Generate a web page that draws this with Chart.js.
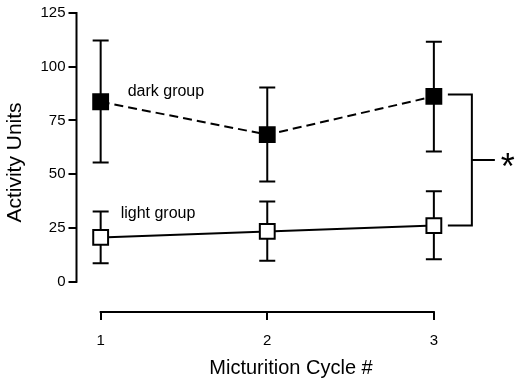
<!DOCTYPE html>
<html>
<head>
<meta charset="utf-8">
<script src="https://cdn.jsdelivr.net/npm/chart.js@4"></script>
<style>
  body { margin: 0; background: #fff; }
  canvas { display: block; }
</style>
</head>
<body>
<canvas id="chart" width="518" height="391"></canvas>
<script>
// data
const cycles = [1, 2, 3];
const darkMean = [83.7, 68.4, 86.2];
const darkUpper = [112.2, 90.3, 111.6];
const darkLower = [55.5, 46.6, 60.6];
const lightMean = [20.6, 23.4, 26.1];
const lightUpper = [32.6, 37.3, 42.1];
const lightLower = [8.6, 9.8, 10.4];
const yTicks = [0, 25, 50, 75, 100, 125];

const FONT = "'Liberation Sans', Arial, sans-serif";

const toPoints = (vals) => cycles.map((c, i) => ({ x: c, y: vals[i] }));

// error bars, drawn under the markers
const errorBars = {
    id: 'errorBars',
    beforeDatasetsDraw(chart) {
        const { ctx, scales: { x, y } } = chart;
        const groups = [[darkUpper, darkLower], [lightUpper, lightLower]];
        ctx.save();
        ctx.strokeStyle = '#000';
        ctx.lineWidth = 2;
        groups.forEach(([up, lo]) => {
            cycles.forEach((c, i) => {
                const px = x.getPixelForValue(c);
                const yu = y.getPixelForValue(up[i]);
                const yl = y.getPixelForValue(lo[i]);
                ctx.beginPath();
                ctx.moveTo(px, yu); ctx.lineTo(px, yl);
                ctx.moveTo(px - 8, yu); ctx.lineTo(px + 8, yu);
                ctx.moveTo(px - 8, yl); ctx.lineTo(px + 8, yl);
                ctx.stroke();
            });
        });
        ctx.restore();
    }
};

// offset axis lines, group labels and significance bracket
const extras = {
    id: 'extras',
    afterDatasetsDraw(chart) {
        const { ctx, chartArea, scales: { x, y } } = chart;
        ctx.save();
        ctx.strokeStyle = '#000';
        ctx.lineWidth = 2;

        // y axis line (0..125)
        ctx.beginPath();
        ctx.moveTo(chartArea.left, y.getPixelForValue(yTicks[yTicks.length - 1]) - 1);
        ctx.lineTo(chartArea.left, y.getPixelForValue(0) + 1);
        ctx.stroke();

        // x axis line (cycle 1..3)
        ctx.beginPath();
        ctx.moveTo(x.getPixelForValue(cycles[0]) - 1, chartArea.bottom);
        ctx.lineTo(x.getPixelForValue(cycles[cycles.length - 1]) + 1, chartArea.bottom);
        ctx.stroke();

        // group labels
        ctx.fillStyle = '#000';
        ctx.font = '16px ' + FONT;
        ctx.textAlign = 'left';
        ctx.textBaseline = 'middle';
        const x1 = x.getPixelForValue(cycles[0]);
        ctx.fillText('dark group', x1 + 27, y.getPixelForValue(darkMean[0]) - 10);
        ctx.fillText('light group', x1 + 20, y.getPixelForValue(lightMean[0]) - 24);

        // bracket
        const x3 = x.getPixelForValue(cycles[2]);
        const yTop = y.getPixelForValue(darkMean[2]) - 2;
        const yBot = y.getPixelForValue(lightMean[2]);
        const yMid = (yTop + yBot) / 2;
        ctx.beginPath();
        ctx.moveTo(x3 + 14, yTop);
        ctx.lineTo(x3 + 38, yTop);
        ctx.lineTo(x3 + 38, yBot);
        ctx.lineTo(x3 + 14, yBot);
        ctx.moveTo(x3 + 38, yMid);
        ctx.lineTo(x3 + 61, yMid);
        ctx.stroke();

        ctx.font = '36px ' + FONT;
        ctx.textAlign = 'center';
        ctx.textBaseline = 'alphabetic';
        ctx.fillText('*', x3 + 74, yMid + 19);
        ctx.restore();
    }
};

new Chart(document.getElementById('chart'), {
    type: 'line',
    data: {
        datasets: [{
            label: 'dark group',
            data: toPoints(darkMean),
            borderColor: '#000',
            borderWidth: 2,
            borderDash: [9, 5],
            pointStyle: 'rect',
            pointRadius: 10.5,
            pointBorderWidth: 2,
            pointBackgroundColor: '#000',
            pointBorderColor: '#000'
        }, {
            label: 'light group',
            data: toPoints(lightMean),
            borderColor: '#000',
            borderWidth: 2,
            pointStyle: 'rect',
            pointRadius: 10.5,
            pointBorderWidth: 2,
            pointBackgroundColor: '#fff',
            pointBorderColor: '#000'
        }]
    },
    options: {
        responsive: false,
        animation: false,
        layout: { padding: { top: 13, left: 0, right: 0, bottom: 0 } },
        plugins: { legend: { display: false }, tooltip: { enabled: false } },
        scales: {
            x: {
                type: 'linear',
                min: 0.855,
                max: 3.43,
                afterBuildTicks: (scale) => { scale.ticks = cycles.map(v => ({ value: v })); },
                afterFit: (scale) => { scale.height = 79; },
                border: { display: false },
                grid: { drawOnChartArea: false, drawTicks: true, tickLength: 8, color: '#000', lineWidth: 2 },
                ticks: { color: '#000', font: { family: FONT, size: 15 }, padding: 12 },
                title: { display: true, text: 'Micturition Cycle #', color: '#000',
                         font: { family: FONT, size: 20 }, padding: { top: 0, bottom: 11 } }
            },
            y: {
                min: -14.1,
                max: 125,
                afterBuildTicks: (scale) => { scale.ticks = yTicks.map(v => ({ value: v })); },
                afterFit: (scale) => { scale.width = 76.5; },
                border: { display: false },
                grid: { drawOnChartArea: false, drawTicks: true, tickLength: 8, color: '#000', lineWidth: 2 },
                ticks: { color: '#000', font: { family: FONT, size: 15 }, padding: 3 },
                title: { display: true, text: 'Activity Units', color: '#000',
                         font: { family: FONT, size: 21 }, padding: { top: 3, bottom: 0 } }
            }
        }
    },
    plugins: [errorBars, extras]
});
</script>
</body>
</html>
